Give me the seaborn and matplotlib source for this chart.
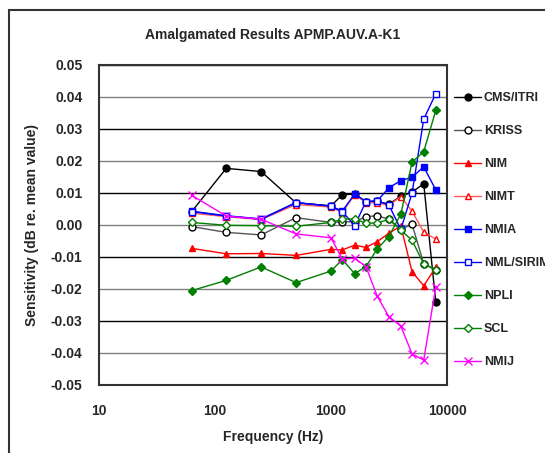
import matplotlib
matplotlib.use("Agg")
import matplotlib.pyplot as plt
from matplotlib.patches import Rectangle
from matplotlib.ticker import FixedLocator, FormatStrFormatter
import seaborn as sns

sns.set_theme(style="white")
plt.rcParams["font.family"] = ["Liberation Sans", "DejaVu Sans"]
plt.rcParams["font.weight"] = "bold"

freqs = [63, 125, 250, 500, 1000, 1250, 1600, 2000, 2500, 3150, 4000, 5000, 6300, 8000]

cms_itri = [0.0042, 0.0177, 0.0167, 0.0069, 0.0060, 0.0094, 0.0097, 0.0072, 0.0074, 0.0065,
            0.0090, 0.0103, 0.0129, -0.0241]
kriss = [-0.0005, -0.0023, -0.0031, 0.0023, 0.0008, 0.0010, 0.0010, 0.0026, 0.0029, 0.0018,
         -0.0013, 0.0002, -0.0121, -0.0140]
nim = [-0.0073, -0.0090, -0.0089, -0.0095, -0.0076, -0.0078, -0.0063, -0.0070, -0.0052, -0.0026,
       -0.0003, -0.0146, -0.0190, -0.0132]
nimt = [0.0037, 0.0026, 0.0017, 0.0064, 0.0056, 0.0039, 0.0095, 0.0070, 0.0070, 0.0061,
        0.0089, 0.0043, -0.0022, -0.0044]
nmia = [0.0043, 0.0029, 0.0019, 0.0070, 0.0059, 0.0043, 0.0097, 0.0073, 0.0075, 0.0116,
        0.0139, 0.0149, 0.0182, 0.0110]
nml_sirim = [0.0042, 0.0028, 0.0018, 0.0070, 0.0059, 0.0042, -0.0002, 0.0073, 0.0075, 0.0063,
             -0.0014, 0.0100, 0.0331, 0.0410]
npli = [-0.0205, -0.0173, -0.0131, -0.0180, -0.0144, -0.0108, -0.0152, -0.0130, -0.0075, -0.0036,
        0.0034, 0.0197, 0.0229, 0.0358]
scl = [0.0008, -0.0001, -0.0002, -0.0004, 0.0008, 0.0018, 0.0019, 0.0006, 0.0006, 0.0018,
       -0.0016, -0.0048, -0.0122, -0.0140]
nmij = [0.0093, 0.0028, 0.0018, -0.0028, -0.0040, -0.0106, -0.0104, -0.0130, -0.0222, -0.0286,
        -0.0316, -0.0403, -0.0422, -0.0193]

# (label, values, line colour, marker, face, edge)
series = [
    ("CMS/ITRI", cms_itri, "black", "o", "black", "black"),
    ("KRISS", kriss, "#555555", "o", "white", "black"),
    ("NIM", nim, "red", "^", "red", "red"),
    ("NIMT", nimt, "#ff5a5a", "^", "white", "red"),
    ("NMIA", nmia, "blue", "s", "blue", "blue"),
    ("NML/SIRIM", nml_sirim, "blue", "s", "white", "blue"),
    ("NPLI", npli, "green", "D", "green", "green"),
    ("SCL", scl, "green", "D", "white", "green"),
    ("NMIJ", nmij, "magenta", "x", "magenta", "magenta"),
]

fig = plt.figure(figsize=(5.45, 4.53), dpi=100)
ax = fig.add_axes([99 / 545, 1 - 385 / 453, 348 / 545, 320 / 453])

for label, vals, lc, mk, mfc, mec in series:
    ms = 6 if mk == "x" else (4.2 if mk == "D" else 5)
    sns.lineplot(x=freqs, y=vals, ax=ax, color=lc, marker=mk, markersize=ms,
                 markerfacecolor=mfc, markeredgecolor=mec, markeredgewidth=1.0,
                 linewidth=1.0, label=label, estimator=None, sort=False)

ax.set_xscale("log")
ax.set_xlim(10, 10000)
ax.set_ylim(-0.05, 0.05)
ax.xaxis.set_major_locator(FixedLocator([10, 100, 1000, 10000]))
ax.xaxis.set_minor_locator(FixedLocator([]))
ax.set_xticklabels(["10", "100", "1000", "10000"])
ax.yaxis.set_major_locator(FixedLocator([-0.05, -0.04, -0.03, -0.02, -0.01, 0.0,
                                         0.01, 0.02, 0.03, 0.04, 0.05]))
ax.yaxis.set_major_formatter(FormatStrFormatter("%.2f"))
ax.tick_params(axis="x", direction="in", length=4, width=1, color="#333333",
               labelsize=10, pad=14)
ax.tick_params(axis="y", length=0, labelsize=10, pad=12)
for t in ax.get_xticklabels() + ax.get_yticklabels():
    t.set_fontweight("bold")

ax.yaxis.grid(True, color="black", linewidth=1.0)
for i, gl in enumerate(ax.yaxis.get_gridlines()):
    if i % 2 == 1:
        gl.set_color("#7f7f7f")
ax.set_axisbelow(True)

for sp in ax.spines.values():
    sp.set_color("#333333")
    sp.set_linewidth(1.5)

ax.set_title("Amalgamated Results APMP.AUV.A-K1", fontsize=10, fontweight="bold", pad=19)
ax.set_xlabel("Frequency (Hz)", fontsize=10, fontweight="bold", labelpad=8)
ax.set_ylabel("Sensitivity (dB re. mean value)", fontsize=10, fontweight="bold", labelpad=8)

leg = ax.legend(loc="upper left", bbox_to_anchor=(1.0, 0.936), frameon=False,
                fontsize=9, handlelength=2.2, handletextpad=0.2, labelspacing=1.68,
                borderaxespad=0.15)
for t in leg.get_texts():
    t.set_fontweight("bold")

fig.add_artist(Rectangle((9 / 545, -0.1), 1.2, 1.1 - 10 / 453, transform=fig.transFigure,
                         fill=False, edgecolor="#333333", linewidth=1.5, clip_on=False))

fig.savefig("out.png", dpi=100)
